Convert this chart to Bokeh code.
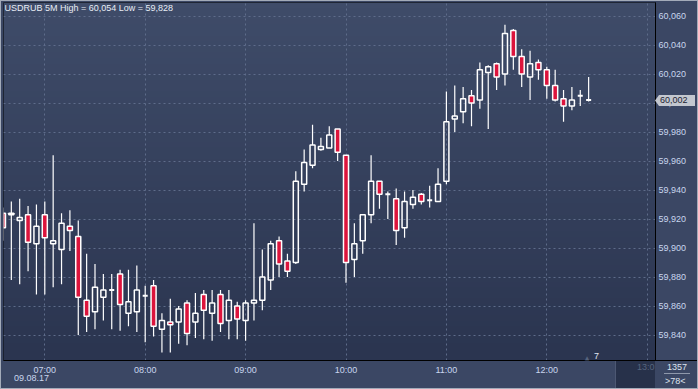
import numpy as np
import pandas as pd
from bokeh.plotting import figure
from bokeh.layouts import column
from bokeh.models import (Range1d, FixedTicker, CustomJSTickFormatter, DatetimeTickFormatter,
                          ColumnDataSource, Label, Div)
from bokeh.embed import file_html
from bokeh.resources import INLINE

# ---------------- data ----------------
start_time = "2017-08-09 06:35"
opens = [59.924, 59.924, 59.919, 59.923, 59.903, 59.923, 59.903, 59.899, 59.915, 59.908,
         59.864, 59.856, 59.866, 59.871, 59.882, 59.855, 59.856, 59.867, 59.874, 59.844,
         59.849, 59.849, 59.862, 59.849, 59.868, 59.855, 59.868, 59.850, 59.860, 59.850,
         59.862, 59.864, 59.878, 59.905, 59.891, 59.890, 59.944, 59.957, 59.968, 59.969,
         59.982, 59.964, 59.892, 59.905, 59.923, 59.946, 59.937, 59.934, 59.914, 59.930,
         59.937, 59.933, 59.932, 59.946, 59.989, 59.994, 60.005, 60.002, 60.021, 60.027,
         60.020, 60.050, 60.032, 60.018, 60.028, 60.023, 60.012, 60.003, 59.998, 60.005,
         60.002]
highs = [59.928, 59.932, 59.934, 59.929, 59.930, 59.932, 59.964, 59.924, 59.926, 59.919,
         59.896, 59.889, 59.882, 59.882, 59.885, 59.885, 59.888, 59.874, 59.878, 59.855,
         59.865, 59.860, 59.864, 59.869, 59.871, 59.871, 59.871, 59.871, 59.863, 59.864,
         59.917, 59.899, 59.905, 59.908, 59.896, 59.953, 59.968, 59.985, 59.976, 59.984,
         59.982, 59.964, 59.917, 59.923, 59.964, 59.946, 59.939, 59.941, 59.939, 59.940,
         59.938, 59.943, 59.955, 60.008, 60.012, 60.011, 60.009, 60.028, 60.026, 60.028,
         60.054, 60.051, 60.037, 60.036, 60.030, 60.025, 60.023, 60.009, 60.011, 60.009,
         60.018]
lows = [59.905, 59.878, 59.875, 59.884, 59.868, 59.868, 59.873, 59.875, 59.898, 59.840,
        59.842, 59.844, 59.850, 59.844, 59.843, 59.846, 59.842, 59.835, 59.839, 59.828,
        59.828, 59.834, 59.833, 59.838, 59.837, 59.836, 59.842, 59.837, 59.837, 59.836,
        59.850, 59.857, 59.871, 59.880, 59.880, 59.889, 59.939, 59.955, 59.967, 59.969,
        59.960, 59.876, 59.880, 59.896, 59.917, 59.927, 59.920, 59.902, 59.907, 59.927,
        59.930, 59.928, 59.932, 59.944, 59.980, 59.986, 59.984, 59.996, 59.982, 60.009,
        60.012, 60.023, 60.011, 60.002, 60.016, 60.003, 60.001, 59.987, 59.995, 59.998,
        60.001]
closes = [59.914, 59.923, 59.921, 59.904, 59.915, 59.907, 59.905, 59.917, 59.912, 59.866,
          59.853, 59.873, 59.871, 59.871, 59.861, 59.863, 59.871, 59.867, 59.846, 59.850,
          59.847, 59.858, 59.841, 59.855, 59.857, 59.862, 59.848, 59.864, 59.851, 59.862,
          59.864, 59.880, 59.903, 59.889, 59.884, 59.946, 59.959, 59.971, 59.970, 59.978,
          59.966, 59.890, 59.903, 59.923, 59.946, 59.937, 59.937, 59.912, 59.932, 59.935,
          59.932, 59.933, 59.944, 59.987, 59.991, 60.003, 60.000, 60.023, 60.025, 60.018,
          60.048, 60.032, 60.020, 60.027, 60.023, 60.012, 60.002, 59.998, 60.002, 60.005,
          60.002]
y_ticks = [59.84, 59.86, 59.88, 59.90, 59.92, 59.94, 59.96, 59.98, 60.00, 60.02, 60.04, 60.06]
hour_ticks = ["07:00", "08:00", "09:00", "10:00", "11:00", "12:00", "13:00"]
day = "2017-08-09"
title_text = "USDRUB 5M High = 60,054 Low = 59,828"
date_text = "09.08.17"
last_price_text = "60,002"
counter_top = "1357"
counter_bottom = ">78<"
marker_text = "7"

# ---------------- geometry helpers (layout only) ----------------
W, H = 698, 389
FL, FR, FT, FB = 3, 655, 2, 360
t0 = pd.Timestamp(day + " 07:00").value / 1e6
PX_PER_HOUR = 100.4
X0_PX = 44.3
def xd(px):
    return t0 + (px - X0_PX) / PX_PER_HOUR * 3600000.0
Y_REF_PX, Y_REF_V, PX_PER_UNIT = 334.5, 59.84, 1450.0
def yd(py):
    return Y_REF_V + (Y_REF_PX - py) / PX_PER_UNIT

x_start, x_end = xd(FL), xd(FR)
y_start, y_end = yd(FB), yd(FT)

times = pd.date_range(start_time, periods=len(opens), freq="5min")
xs = (times.asi8 // 10**6).astype(float)
o = np.array(opens); h = np.array(highs); l = np.array(lows); c = np.array(closes)
top = np.maximum(o, c); bot = np.minimum(o, c)
bull = c > o
bear = c < o
doji = c == o
BODY_W = 180000.0

hour_ms = [pd.Timestamp(day + " " + s).value / 1e6 for s in hour_ticks]

BG_BORDER = "#3b4764"
LABEL_C = "#c9d6ee"
FONT = "Liberation Sans"

p = figure(width=W, height=H, x_axis_type="datetime", y_axis_location="right",
           output_backend="svg", toolbar_location=None,
           x_range=Range1d(x_start, x_end), y_range=Range1d(y_start, y_end),
           min_border_left=FL, min_border_right=W - FR, min_border_top=FT,
           min_border_bottom=H - FB)
p.border_fill_color = BG_BORDER
p.background_fill_color = "#34405c"
p.outline_line_color = "#151a24"
p.outline_line_width = 1

# gradient background
n = 64
img = np.empty((n, 1), dtype=np.uint32)
view = img.view(dtype=np.uint8).reshape((n, 1, 4))
top_c = np.array([0x3f, 0x4c, 0x69], dtype=float)
bot_c = np.array([0x2b, 0x35, 0x50], dtype=float)
for i in range(n):
    f = i / (n - 1)
    col = bot_c + (top_c - bot_c) * f
    view[i, 0, 0] = int(col[0]); view[i, 0, 1] = int(col[1]); view[i, 0, 2] = int(col[2]); view[i, 0, 3] = 255
p.image_rgba(image=[img], x=x_start, y=y_start, dw=x_end - x_start, dh=y_end - y_start, level="image")

# grid
p.xgrid.ticker = FixedTicker(ticks=hour_ms)
p.ygrid.ticker = FixedTicker(ticks=y_ticks)
for g in (p.xgrid[0], p.ygrid[0]):
    g.grid_line_color = "#5e6c8a"
    g.grid_line_dash = "2 3"
    g.grid_line_width = 1

# axes
xa = p.xaxis[0]
xa.ticker = FixedTicker(ticks=hour_ms[:-1])
xa.formatter = DatetimeTickFormatter(hours="%H:%M", hourmin="%H:%M", minutes="%H:%M", days="%H:%M")
ya = p.yaxis[0]
ya.ticker = FixedTicker(ticks=y_ticks)
ya.formatter = CustomJSTickFormatter(code="return tick.toFixed(3).replace('.', ',');")
for ax in (xa, ya):
    ax.axis_line_color = "#000000"
    ax.axis_line_width = 1
    ax.major_tick_line_color = None
    ax.minor_tick_line_color = None
    ax.major_tick_out = 0
    ax.major_tick_in = 0
    ax.major_label_text_font = FONT
    ax.major_label_text_font_size = "9px"
    ax.major_label_text_color = LABEL_C
xa.major_label_standoff = 4
ya.major_label_standoff = 3

# candles
up = ColumnDataSource(dict(x=xs[bull], top=top[bull], bot=bot[bull]))
dn = ColumnDataSource(dict(x=xs[bear], top=top[bear], bot=bot[bear]))
dj = ColumnDataSource(dict(x0=xs[doji] - BODY_W / 2, x1=xs[doji] + BODY_W / 2, y=c[doji]))
wk = ColumnDataSource(dict(x=xs, h=h, l=l, top=top, bot=bot))

p.segment(x0="x", y0="h", x1="x", y1="top", source=wk, line_color="white", line_width=1.2)
p.segment(x0="x", y0="bot", x1="x", y1="l", source=wk, line_color="white", line_width=1.2)
p.vbar(x="x", top="top", bottom="bot", width=BODY_W, source=up,
       fill_alpha=0, line_color="white", line_width=1.5)
p.vbar(x="x", top="top", bottom="bot", width=BODY_W, source=dn,
       fill_color="#dc143c", line_color="white", line_width=1.5)
p.segment(x0="x0", y0="y", x1="x1", y1="y", source=dj, line_color="white", line_width=2)

# annotations inside the frame
p.add_layout(Label(x=xd(4), y=yd(2.5), text=title_text, text_font=FONT, text_font_size="9px",
                   text_color="#e8edf5", text_align="left", text_baseline="top"))
p.add_layout(Label(x=xd(596), y=yd(355.5), text=marker_text, text_font=FONT, text_font_size="9px",
                   text_color="#e0e6f0", text_align="center", text_baseline="middle"))
p.add_layout(Label(x=xd(586.5), y=yd(356.5), text="\u25b2", text_font="DejaVu Sans", text_font_size="6px",
                   text_color="#56637e", text_align="center", text_baseline="middle"))

# overlays outside the frame (HTML)
FONT_CSS = "'Liberation Sans', Arial, sans-serif"
def esc(s):
    return s.replace("&", "&amp;").replace("<", "&lt;").replace(">", "&gt;")
def overlay(text, left, top_, w, h_, extra):
    st = {"position": "absolute", "left": "%dpx" % left, "top": "%dpx" % top_,
          "width": "%dpx" % w, "height": "%dpx" % h_, "box-sizing": "border-box",
          "font-family": FONT_CSS, "font-size": "9px", "overflow": "hidden",
          "white-space": "nowrap", "line-height": "12px", "padding": "0",
          "margin": "0", "pointer-events": "none"}
    st.update(extra)
    return Div(text=esc(text), width=w, height=h_, styles=st)

dark = overlay("", 615, 361, 40, 28,
               {"background-color": "#27314a", "border-left": "1px solid #4d5873"})
dark_txt = overlay(hour_ticks[-1][:4], 637, 361, 18, 13, {"color": "#56647e"})
tag = overlay(last_price_text, 655, 95, 40, 11,
              {"background-color": "#c3c7cf", "color": "#1c2333", "line-height": "11px",
               "padding-left": "5px",
               "clip-path": "polygon(0 50%, 4px 0, 100% 0, 100% 100%, 4px 100%)"})
cnt_top = overlay(counter_top, 667, 361, 26, 13, {"color": "#dde3ee"})
cnt_line = overlay("", 664, 373, 26, 1, {"background-color": "#8e98ab"})
cnt_bot = overlay(counter_bottom, 665, 375, 28, 13, {"color": "#dde3ee"})
corner_line = overlay("", 655, 360, 43, 1, {"background-color": "#000000"})
date_div = overlay(date_text, 14, 372, 40, 13, {"color": LABEL_C})
frame_border = overlay("", 0, 0, W, H, {"border": "1px solid #a3abb9", "background": "transparent"})

layout = column(p, dark, dark_txt, tag, cnt_top, cnt_line, cnt_bot, corner_line, date_div,
                frame_border, spacing=0)
open("out.html", "w").write(file_html(layout, INLINE))
